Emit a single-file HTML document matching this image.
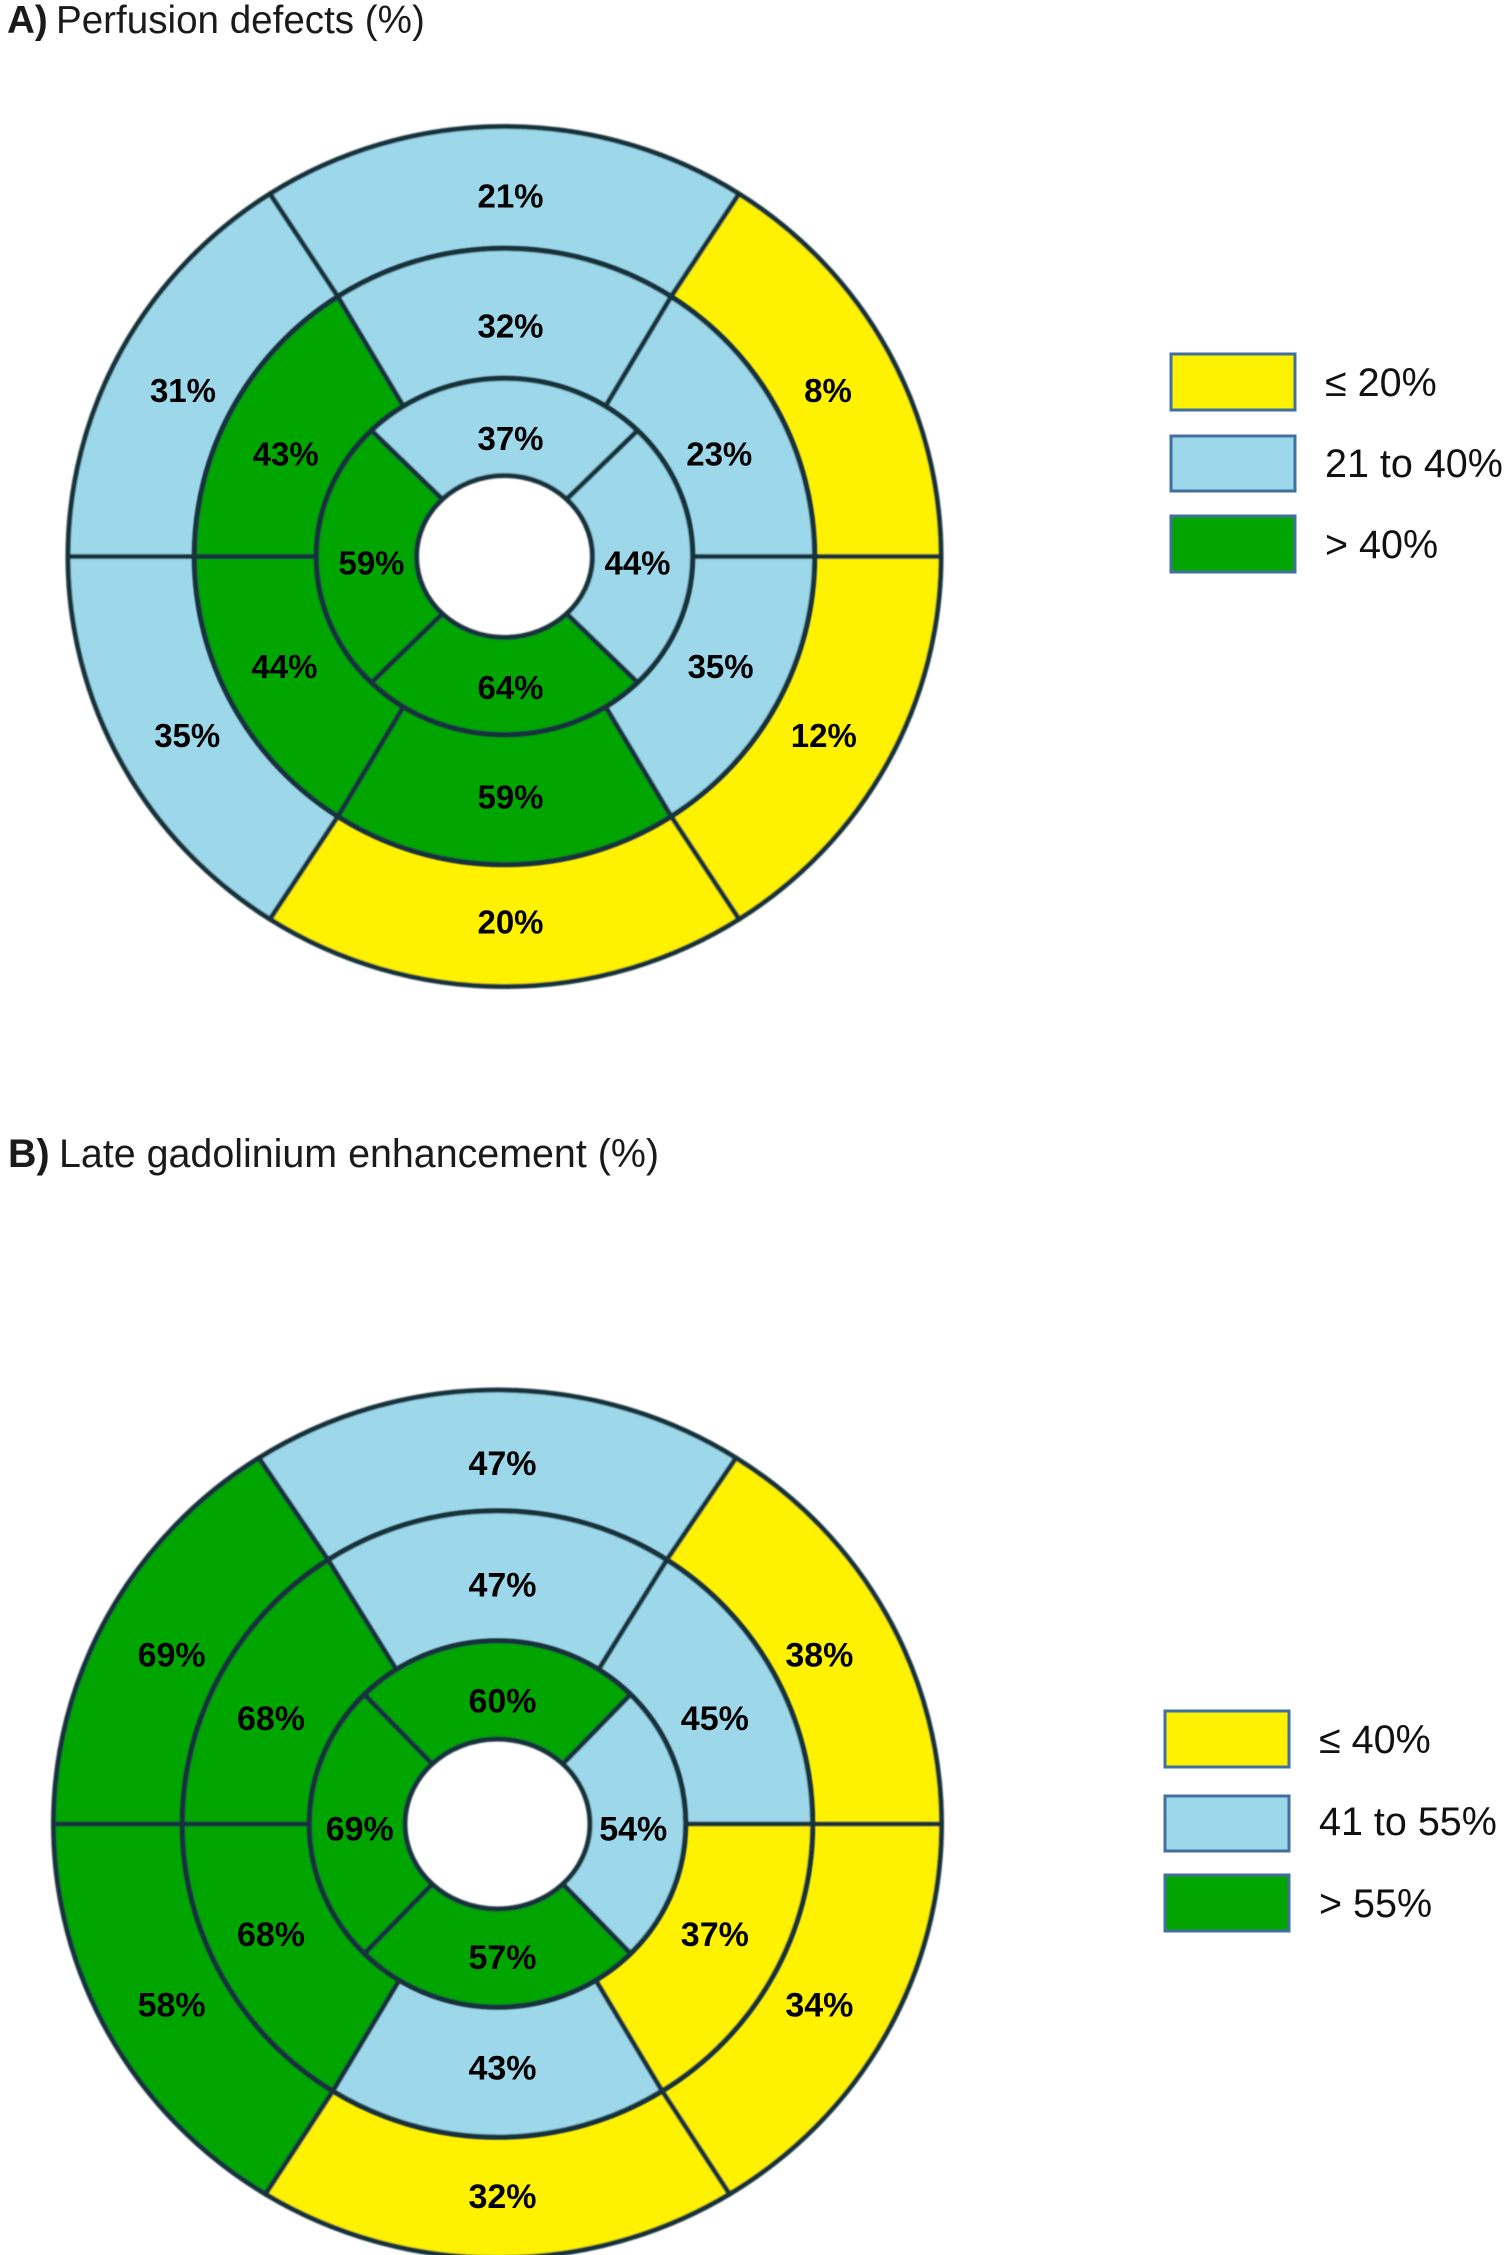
<!DOCTYPE html>
<html lang="en">
<head>
<meta charset="utf-8">
<title>Perfusion defects and late gadolinium enhancement bull's-eye plots</title>
<style>
  html, body { margin: 0; padding: 0; background: #fff; }
  svg { display: block; }
  text { font-family: "Liberation Sans", Arial, sans-serif; fill: #000; }
  .title { font-size: 38.6px; fill: #1a1a1a; }
  .title-b { font-size: 39.4px; }
  .legend-label { font-size: 39.5px; fill: #111; }
  .seg-label { font-size: 33px; font-weight: 700; text-anchor: middle; }
  #panel-b .seg-label { font-size: 34px; }
</style>
</head>
<body>
<svg id="figure" xmlns="http://www.w3.org/2000/svg" width="1508" height="2255" viewBox="0 0 1508 2255">
  <defs>
    <filter id="soft" x="-5%" y="-5%" width="110%" height="110%"><feGaussianBlur stdDeviation="0.7"/></filter>
  </defs>
  <rect x="0" y="0" width="1508" height="2255" fill="#fff"/>

  <text class="title" x="7" y="33"><tspan font-weight="700">A)</tspan><tspan x="56">Perfusion defects (%)</tspan></text>
  <text class="title title-b" x="8" y="1167"><tspan font-weight="700">B)</tspan><tspan x="59">Late gadolinium enhancement (%)</tspan></text>

  <g id="panel-a"></g>
  <g id="panel-b"></g>

  <g>
    <rect x="1171" y="354" width="124" height="56" fill="#fff200" stroke="#41709f" stroke-width="3"/>
    <text class="legend-label" x="1325" y="396">≤ 20%</text>
    <rect x="1171" y="436" width="124" height="55" fill="#9cd8ea" stroke="#41709f" stroke-width="3"/>
    <text class="legend-label" x="1325" y="477">21 to 40%</text>
    <rect x="1171" y="516" width="124" height="56" fill="#00a500" stroke="#41709f" stroke-width="3"/>
    <text class="legend-label" x="1325" y="558">&gt; 40%</text>
  </g>

  <g>
    <rect x="1165" y="1711" width="124" height="56" fill="#fff200" stroke="#41709f" stroke-width="3"/>
    <text class="legend-label" x="1319" y="1753">≤ 40%</text>
    <rect x="1165" y="1796" width="124" height="55" fill="#9cd8ea" stroke="#41709f" stroke-width="3"/>
    <text class="legend-label" x="1319" y="1835">41 to 55%</text>
    <rect x="1165" y="1875" width="124" height="56" fill="#00a500" stroke="#41709f" stroke-width="3"/>
    <text class="legend-label" x="1319" y="1917">&gt; 55%</text>
  </g>
</svg>

<script>
// Values, clockwise from the top sector of each ring
const panelAOuter = [21, 8, 12, 20, 35, 31];
const panelAMiddle = [32, 23, 35, 59, 44, 43];
const panelAInner = [37, 44, 64, 59];
const panelBOuter = [47, 38, 34, 32, 58, 69];
const panelBMiddle = [47, 45, 37, 43, 68, 68];
const panelBInner = [60, 54, 57, 69];

// Colour-class upper bounds
const panelAThresholds = [20, 40];
const panelBThresholds = [40, 55];

// The source figure shades the 44% right inner sector of panel A as the middle class
const panelAInnerClassOverride = [null, 1, null, null];

const classColors = ['#fff200', '#9cd8ea', '#00a500'];
const strokeColor = '#16303b';
const NS = 'http://www.w3.org/2000/svg';

function colorFor(value, thresholds, override) {
  if (override !== null && override !== undefined) return classColors[override];
  if (value <= thresholds[0]) return classColors[0];
  if (value <= thresholds[1]) return classColors[1];
  return classColors[2];
}

function point(geo, rx, ry, deg) {
  const t = deg * Math.PI / 180;
  return [geo.cx + rx * Math.cos(t), geo.cy - ry * Math.sin(t)];
}

function wedgePath(geo, ringOut, ringIn, startDeg, endDeg) {
  const a = point(geo, ringOut[0], ringOut[1], startDeg);
  const b = point(geo, ringOut[0], ringOut[1], endDeg);
  const c = point(geo, ringIn[0], ringIn[1], endDeg);
  const d = point(geo, ringIn[0], ringIn[1], startDeg);
  return 'M' + a[0] + ' ' + a[1] +
    'A' + ringOut[0] + ' ' + ringOut[1] + ' 0 0 1 ' + b[0] + ' ' + b[1] +
    'L' + c[0] + ' ' + c[1] +
    'A' + ringIn[0] + ' ' + ringIn[1] + ' 0 0 0 ' + d[0] + ' ' + d[1] + 'Z';
}

// Sector spans are derived from the count of values in a ring
function sectorSpans(count, geo) {
  const st = geo.slantTop;
  const sb = geo.slantBottom;
  if (count === 6) {
    return [[180 - st, st], [st, 0], [0, -sb], [-sb, -180 + sb], [-180 + sb, -180], [180, 180 - st]];
  }
  return [[135, 45], [45, -45], [-45, -135], [-135, -225]];
}

function labelAngle(count, index, opt) {
  if (count === 6) return [90, opt.upper, -opt.lower, -90, -180 + opt.lower, 180 - opt.upper][index];
  return [90, 0, -90, 180][index];
}

function drawRing(group, geo, values, thresholds, ringOut, ringIn, ringName, opt, overrides) {
  const spans = sectorSpans(values.length, geo);
  const wedges = document.createElementNS(NS, 'g');
  wedges.setAttribute('filter', 'url(#soft)');
  
  
  group.appendChild(wedges);
  values.forEach(function (value, i) {
    const wedge = document.createElementNS(NS, 'path');
    wedge.setAttribute('d', wedgePath(geo, ringOut, ringIn, spans[i][0], spans[i][1]));
    wedge.setAttribute('fill', colorFor(value, thresholds, overrides ? overrides[i] : null));
    wedge.setAttribute('stroke', strokeColor);
    wedge.setAttribute('stroke-width', '5');
    wedge.setAttribute('stroke-linejoin', 'round');
    
    
    wedges.appendChild(wedge);
  });
  values.forEach(function (value, i) {
    const deg = labelAngle(values.length, i, opt);
    const rx = (ringOut[0] + ringIn[0]) / 2 - opt.insetX;
    const ry = (ringOut[1] + ringIn[1]) / 2 - opt.insetY;
    const p = point(geo, rx, ry, deg);
    const shiftX = Math.abs(deg) === 90 ? geo.centerDx : opt.sideDx;
    const label = document.createElementNS(NS, 'text');
    label.setAttribute('class', 'seg-label');
    label.setAttribute('x', p[0] + shiftX);
    label.setAttribute('y', p[1] + 12 + opt.dy);
    label.textContent = value + '%';
    
    
    group.appendChild(label);
  });
}

function drawPanel(id, geo, outer, middle, inner, thresholds, prefix, innerOverrides) {
  const group = document.getElementById(id);
  drawRing(group, geo, outer, thresholds, geo.outer, geo.middle, prefix + '-outer-ring', geo.outerLabels);
  drawRing(group, geo, middle, thresholds, geo.middle, geo.inner, prefix + '-middle-ring', geo.middleLabels);
  drawRing(group, geo, inner, thresholds, geo.inner, geo.hole, prefix + '-inner-ring', geo.innerLabels, innerOverrides);
  group.querySelectorAll('text').forEach(function (t) { group.appendChild(t); });
}

drawPanel('panel-a', {
  cx: 504.5, cy: 556.5, slantTop: 57.5, slantBottom: 57.5, centerDx: 6,
  outer: [436.5, 430], middle: [310, 308], inner: [188, 178], hole: [88, 81],
  outerLabels: { insetX: 9, insetY: 6, dy: 2, sideDx: 1, upper: 27.7, lower: 29.1 },
  middleLabels: { insetX: 5.3, insetY: 7.5, dy: 4.5, sideDx: -2, upper: 27.2, lower: 26.5 },
  innerLabels: { insetX: 5, insetY: 5, dy: 6, sideDx: 0, upper: 0, lower: 0 }
}, panelAOuter, panelAMiddle, panelAInner, panelAThresholds, 'panel-a', panelAInnerClassOverride);

drawPanel('panel-b', {
  cx: 497.5, cy: 1824, slantTop: 57.5, slantBottom: 58.5, centerDx: 5,
  outer: [444, 434], middle: [315, 313], inner: [188, 183], hole: [92.5, 85],
  outerLabels: { insetX: 11, insetY: 7, dy: 5.5, sideDx: -2, upper: 28.5, lower: 28.5 },
  middleLabels: { insetX: 3.3, insetY: 6.5, dy: 2, sideDx: -4.6, upper: 26.6, lower: 26.6 },
  innerLabels: { insetX: 3.5, insetY: 5.75, dy: 4.5, sideDx: -1, upper: 0, lower: 0 }
}, panelBOuter, panelBMiddle, panelBInner, panelBThresholds, 'panel-b');
</script>
</body>
</html>
